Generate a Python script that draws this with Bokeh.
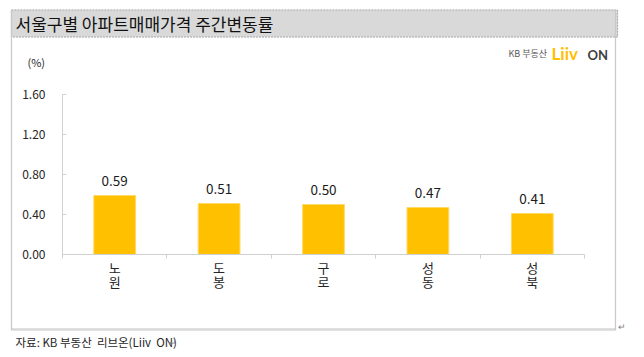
from bokeh.plotting import figure
from bokeh.models import (ColumnDataSource, Range1d, FixedTicker, Label,
                          CustomJSTickFormatter)
from bokeh.embed import file_html
from bokeh.resources import INLINE
from bokeh.core.properties import value

# ---- data ----
districts = ["노원", "도봉", "구로", "성동", "성북"]
changes = [0.59, 0.51, 0.50, 0.47, 0.41]
y_ticks = [0.0, 0.4, 0.8, 1.2, 1.6]
title_text = "서울구별 아파트매매가격 주간변동률"
unit_text = "(%)"
source_text = "자료: KB 부동산 \u00a0리브온(Liiv \u00a0ON)"

KFONT = "Noto Sans CJK KR"
W, H = 644, 357
FL, FR, FT, FB = 62, 584, 94, 254  # frame edges on canvas

positions = [i + 0.5 for i in range(len(districts))]
src = ColumnDataSource(dict(x=positions, top=changes,
                            lbl=["%.2f" % v for v in changes]))

p = figure(width=W, height=H, output_backend="svg", toolbar_location=None,
           x_range=Range1d(0, len(districts)), y_range=Range1d(y_ticks[0], y_ticks[-1]),
           min_border_left=FL, min_border_right=W - FR, min_border_top=FT,
           min_border_bottom=H - FB)
p.outline_line_color = None
p.grid.visible = False
p.background_fill_color = "white"
p.border_fill_color = "white"


def add_box(left, top, right, bottom, side, fill=None, line="#c8c8c8", dash="solid"):
    """Frame/line drawn as an empty label whose padding gives its size."""
    cx, cy = (left + right) / 2, (top + bottom) / 2
    hw, hh = (right - left) / 2, (bottom - top) / 2
    p.add_layout(Label(x=cx, y=cy, x_units="canvas", y_units="canvas", text="\u00a0",
                       text_font_size="1px", text_align="center", text_baseline="middle",
                       padding=dict(left=int(hw), right=int(hw), top=int(hh), bottom=int(hh)),
                       background_fill_color=fill, border_line_color=line,
                       border_line_dash=dash, border_line_width=1), side)


def add_label(text, cx, cy, size, side, color="#1a1a1a", style="normal", align="left",
              baseline="middle", font=KFONT):
    p.add_layout(Label(x=cx, y=cy, x_units="canvas", y_units="canvas", text=text,
                       text_font=font, text_font_size=size, text_color=color,
                       text_font_style=style, text_align=align, text_baseline=baseline),
                 side)


# outer box edges (left, right, bottom) and title bar
add_box(11, 10, 11, 329, "left")
add_box(615, 10, 615, 329, "right")
add_box(11, 329, 615, 329, "below")
add_box(11, 10, 617, 36, "above", fill="#d9d9d9", line="#a6a6a6", dash="2 1")

# bars
p.vbar(x="x", top="top", width=0.4, source=src, fill_color="#FFC000",
       line_color="#FFD966", line_width=1)
p.text(x="x", y="top", text="lbl", source=src, y_offset=-15, text_align="center",
       text_baseline="alphabetic", text_font=value(KFONT), text_font_size="13.5px",
       text_color="#1a1a1a")

# y axis
ya = p.yaxis[0]
ya.ticker = FixedTicker(ticks=y_ticks)
ya.formatter = CustomJSTickFormatter(code="return tick.toFixed(2);")
ya.axis_line_color = "#d0d0d0"
ya.major_tick_line_color = "#d0d0d0"
ya.major_tick_in = 4
ya.major_tick_out = 0
ya.minor_tick_line_color = None
ya.major_label_standoff = 17
ya.major_label_text_font = KFONT
ya.major_label_text_font_size = "12px"
ya.major_label_text_color = "#262626"

# x axis: labels at category centres, ticks at boundaries
xa = p.xaxis[0]
xa.ticker = FixedTicker(ticks=positions, minor_ticks=list(range(len(districts) + 1)))
xa.major_label_overrides = {pos: "\n".join(list(d)) for pos, d in zip(positions, districts)}
xa.axis_line_color = "#d0d0d0"
xa.major_tick_line_color = None
xa.minor_tick_line_color = "#d0d0d0"
xa.minor_tick_in = 0
xa.minor_tick_out = 4
xa.major_label_standoff = -3
xa.major_label_text_font = KFONT
xa.major_label_text_font_size = "13px"
xa.major_label_text_color = "#262626"
xa.major_label_text_line_height = 0.75

add_label(title_text, 15, 23, "17px", "above", color="#111111")
add_label(unit_text, 27, 61, "11px", "left", color="#262626")
add_label(source_text, 15, 341, "11.5px", "below", color="#262626")
add_label("↵", 168, 342, "9px", "below", color="#808080")
add_label("↵", 617, 326, "9px", "right", color="#808080")
# logo
add_label("KB 부동산", 508, 53, "9px", "above", color="#595959")
add_label("Liiv", 551, 53, "17px", "above", color="#FFC000", style="bold", font="Lato")
add_label("ON", 587, 54, "13px", "right", color="#3f3f3f", style="bold", font="Lato")

open("out.html", "w").write(file_html(p, INLINE))
